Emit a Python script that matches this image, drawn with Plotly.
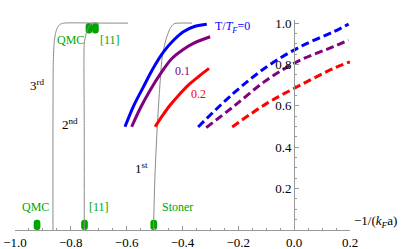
import plotly.graph_objects as go

# ---- data ----
# gray boundary curves (P vs -1/(kF a))
gray3_x = [-0.864, -0.864, -0.863, -0.860, -0.855, -0.849, -0.840, -0.825, -0.700, -0.595]
gray3_y = [0.0, 0.50, 0.80, 0.90, 0.95, 0.975, 0.993, 1.0, 1.0, 1.0]
gray2_x = [-0.752, -0.752, -0.753, -0.752, -0.745, -0.736, -0.724, -0.700]
gray2_y = [0.0, 0.50, 0.80, 0.90, 0.95, 0.98, 1.0, 1.0]
gray1_x = [-0.504, -0.499, -0.492, -0.483, -0.474, -0.465, -0.456, -0.444, -0.430, -0.366]
gray1_y = [0.0, 0.25, 0.46, 0.66, 0.82, 0.89, 0.935, 0.975, 0.997, 1.0]

# solid curves (T/TF = 0, 0.1, 0.2)
blue_x = [-0.606, -0.575, -0.540, -0.505, -0.468, -0.432, -0.397, -0.355, -0.313]
blue_y = [0.499, 0.600, 0.692, 0.782, 0.861, 0.917, 0.958, 0.985, 0.995]
purple_x = [-0.582, -0.550, -0.516, -0.478, -0.438, -0.400, -0.361, -0.301]
purple_y = [0.499, 0.592, 0.676, 0.757, 0.829, 0.870, 0.902, 0.934]
red_x = [-0.498, -0.470, -0.444, -0.412, -0.379, -0.342, -0.305]
red_y = [0.499, 0.556, 0.604, 0.654, 0.700, 0.742, 0.781]

# dashed curves
blue_dx = [-0.344, -0.218, -0.098, 0.022, 0.141, 0.195]
blue_dy = [0.498, 0.660, 0.789, 0.886, 0.958, 0.995]
purple_dx = [-0.315, -0.218, -0.098, 0.022, 0.141, 0.195]
purple_dy = [0.495, 0.596, 0.725, 0.821, 0.886, 0.918]
red_dx = [-0.222, -0.098, 0.022, 0.141, 0.200]
red_dy = [0.498, 0.612, 0.700, 0.781, 0.813]

# markers of critical points
bottom_marks = [-0.921, -0.751, -0.503]
bottom_labels = ["QMC", "[11]", "Stoner"]
top_marks = [-0.735, -0.712]
top_labels = ["QMC", "[11]"]

x_ticks = [-1.0, -0.8, -0.6, -0.4, -0.2, 0.0, 0.2]
y_ticks = [0.2, 0.4, 0.6, 0.8, 1.0]

# ---- style ----
FONT = "'Liberation Serif', 'Times New Roman', Times, serif"
GREEN = "#00a600"
GRAY = "#8a8a8a"
BLUE = "#0000ff"
PURPLE = "#800080"
RED = "#ff0000"
MARK_W = 0.024
MARK_H = 0.05

fig = go.Figure()

# markers as rounded bars
fig.add_trace(go.Bar(x=bottom_marks, y=[MARK_H] * len(bottom_marks), base=0,
                     width=MARK_W, marker=dict(color=GREEN, cornerradius="50%", line_width=0),
                     showlegend=False, hoverinfo="skip"))
fig.add_trace(go.Bar(x=top_marks, y=[-MARK_H] * len(top_marks), base=1.0,
                     width=MARK_W, marker=dict(color=GREEN, cornerradius="50%", line_width=0),
                     showlegend=False, hoverinfo="skip"))

for gx, gy in [(gray3_x, gray3_y), (gray2_x, gray2_y), (gray1_x, gray1_y)]:
    fig.add_trace(go.Scatter(x=gx, y=gy, mode="lines", line=dict(color=GRAY, width=1, shape="spline", smoothing=0.6),
                             showlegend=False, hoverinfo="skip"))

for cx, cy, col in [(blue_x, blue_y, BLUE), (purple_x, purple_y, PURPLE), (red_x, red_y, RED)]:
    fig.add_trace(go.Scatter(x=cx, y=cy, mode="lines", line=dict(color=col, width=3, shape="spline"),
                             showlegend=False, hoverinfo="skip"))
for cx, cy, col in [(blue_dx, blue_dy, BLUE), (purple_dx, purple_dy, PURPLE), (red_dx, red_dy, RED)]:
    fig.add_trace(go.Scatter(x=cx, y=cy, mode="lines", line=dict(color=col, width=3, shape="spline", dash="8px,4px"),
                             showlegend=False, hoverinfo="skip"))

ann = []
def A(x, y, text, color="black", size=12, **kw):
    d = dict(x=x, y=y, xref="x", yref="y", text=text, showarrow=False,
             font=dict(family=FONT, size=size, color=color))
    d.update(kw)
    ann.append(d)

A(-0.925, 0.111, bottom_labels[0], GREEN)
A(-0.699, 0.111, bottom_labels[1], GREEN)
A(-0.419, 0.111, bottom_labels[2], GREEN)
A(-0.803, 0.918, top_labels[0], GREEN)
A(-0.659, 0.918, top_labels[1], GREEN)
A(-0.921, 0.700, "3<sup>rd</sup>", size=13)
A(-0.803, 0.512, "2<sup>nd</sup>", size=13)
A(-0.548, 0.300, "1<sup>st</sup>", size=13)
A(-0.292, 0.981, "T/<i>T</i><sub><i>F</i></sub>=0", BLUE, xanchor="left")
A(-0.401, 0.768, "0.1", PURPLE)
A(-0.341, 0.657, "0.2", RED)
A(0.0, 1.077, "P", size=14)
A(0.2, 0.0, "−1/(<i>k</i><sub><i>F</i></sub>a)", size=13, xanchor="left", yanchor="middle", xshift=2, yshift=9)

fig.update_layout(
    width=415, height=249,
    margin=dict(l=15, r=65, t=20, b=19, autoexpand=False),
    paper_bgcolor="white", plot_bgcolor="white",
    barmode="overlay", showlegend=False,
    font=dict(family=FONT, size=13, color="black"),
    annotations=ann,
    xaxis=dict(range=[-1.0, 0.2], domain=[0, 1], tickvals=x_ticks, ticktext=[f"{v:.1f}".replace("-", "−") for v in x_ticks],
               showgrid=False, zeroline=False, showline=True, linecolor="#999", linewidth=1,
               ticks="inside", ticklen=4, tickcolor="#999", tickwidth=1, automargin=False,
               minor=dict(dtick=0.05, tick0=0, ticks="inside", ticklen=2, tickcolor="#999"),
               tickfont=dict(family=FONT, size=13), fixedrange=True),
    yaxis=dict(range=[0, 1.015], anchor="free", position=(0 - (-1.0)) / 1.2, tickvals=y_ticks,
               ticktext=[f"{v:.1f}" for v in y_ticks], automargin=False,
               showgrid=False, zeroline=False, showline=True, linecolor="#999", linewidth=1,
               ticks="inside", ticklen=4, tickcolor="#999", tickwidth=1,
               minor=dict(dtick=0.05, tick0=0, ticks="inside", ticklen=2, tickcolor="#999"),
               tickfont=dict(family=FONT, size=13), fixedrange=True),
)

fig.write_html("out.html", config={"staticPlot": True},
               post_script="document.body.style.margin='0';document.body.style.overflow='hidden';")
